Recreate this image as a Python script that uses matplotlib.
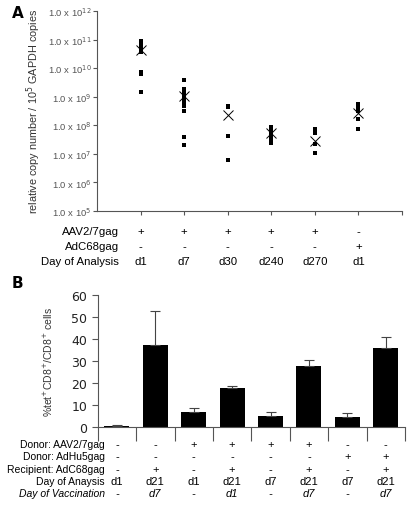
import numpy as np
import matplotlib.pyplot as plt
from matplotlib.transforms import blended_transform_factory

plt.rcParams['font.family'] = ['Liberation Sans', 'DejaVu Sans']

# ---- panel A data (log10 of copy number) ----
a_groups = ["d1", "d7", "d30", "d240", "d270", "d1"]
a_points = [
    [10.96, 10.82, 10.67, 10.57, 9.85, 9.79, 9.17],
    [9.59, 9.26, 9.18, 9.09, 9.01, 8.91, 8.80, 8.66, 8.50, 7.57, 7.31],
    [8.68, 8.62, 7.62, 6.77],
    [7.92, 7.82, 7.74, 7.62, 7.51, 7.39],
    [7.86, 7.71, 7.33, 7.01],
    [8.74, 8.62, 8.50, 8.21, 7.86],
]
a_means = [10.64, 9.03, 8.36, 7.71, 7.45, 8.44]
a_rows = ["AAV2/7gag", "AdC68gag", "Day of Analysis"]
a_aav = ["+", "+", "+", "+", "+", "-"]
a_adc = ["-", "-", "-", "-", "-", "+"]

# ---- panel B data ----
b_vals = [0.3, 37.0, 6.8, 17.8, 5.0, 27.8, 4.2, 36.0]
b_err = [0.3, 15.5, 1.9, 0.5, 1.5, 2.7, 2.1, 5.0]
b_rows = ["Donor: AAV2/7gag", "Donor: AdHu5gag", "Recipient: AdC68gag",
          "Day of Anaysis", "Day of Vaccination"]
b_aav = ["-", "-", "+", "+", "+", "+", "-", "-"]
b_adhu = ["-", "-", "-", "-", "-", "-", "+", "+"]
b_rec = ["-", "+", "-", "+", "-", "+", "-", "+"]
b_day = ["d1", "d21", "d1", "d21", "d7", "d21", "d7", "d21"]
b_vacc = ["-", "d7", "-", "d1", "-", "d7", "-", "d7"]

W, H = 411, 510
fig = plt.figure(figsize=(W / 100, H / 100), dpi=100)
gray = "#555555"

def fy(py):
    return 1 - py / H

# ================= panel A =================
axA = fig.add_axes([97 / W, fy(211.7), (402 - 97) / W, (211.7 - 12) / H])
xa = np.arange(1, len(a_groups) + 1)
for x, pts in zip(xa, a_points):
    axA.plot([x] * len(pts), 10 ** np.array(pts), 's', color='black',
             markersize=2.3, markeredgewidth=0)
axA.plot(xa, 10 ** np.array(a_means), 'x', color='black', markersize=6.5,
         markeredgewidth=0.7)
axA.set_yscale('log')
axA.set_ylim(1e5, 1e12)
axA.set_xlim(0, 7)
axA.set_xticks(np.arange(1, 8))
axA.set_xticklabels([])
axA.yaxis.set_minor_locator(plt.NullLocator())
ya_ticks = [10 ** k for k in range(5, 13)]
axA.set_yticks(ya_ticks)
axA.set_yticklabels([r"1.0 x 10$^{%d}$" % k for k in range(5, 13)],
                    fontsize=6.8, color=gray)
for s in ['top', 'right']:
    axA.spines[s].set_visible(False)
for s in ['left', 'bottom']:
    axA.spines[s].set_color(gray)
    axA.spines[s].set_linewidth(0.8)
axA.tick_params(axis='both', colors=gray, length=3, width=0.8)
axA.tick_params(axis='y', labelcolor=gray, pad=1)
axA.set_ylabel(r"relative copy number / 10$^{5}$ GAPDH copies", fontsize=7.8,
               color='#333333', labelpad=3)

trA = blended_transform_factory(axA.transData, fig.transFigure)
row_y_a = [231.7, 246.7, 261.7]
for lab, y in zip(a_rows, row_y_a):
    fig.text(119 / W, fy(y), lab, ha='right', va='center', fontsize=8.2)
for x, p, q, d in zip(xa, a_aav, a_adc, a_groups):
    fig.text(x, fy(row_y_a[0]), p, transform=trA, ha='center', va='center', fontsize=8.2)
    fig.text(x, fy(row_y_a[1]), q, transform=trA, ha='center', va='center', fontsize=8.2)
    fig.text(x, fy(row_y_a[2]), d, transform=trA, ha='center', va='center', fontsize=8.2)
fig.text(12 / W, fy(13), "A", fontsize=11, fontweight='bold', ha='left', va='center',
         family='DejaVu Sans')

# ================= panel B =================
axB = fig.add_axes([97.7 / W, fy(427.7), (405 - 97.7) / W, (427.7 - 295.7) / H])
xb = np.arange(len(b_vals)) + 0.5
axB.bar(xb, b_vals, width=0.65, color='black')
axB.errorbar(xb, b_vals, yerr=[np.zeros(len(b_err)), b_err], fmt='none',
             ecolor='#444444', elinewidth=0.8, capsize=3.5, capthick=0.8)
axB.set_xlim(0, 8)
axB.set_ylim(0, 60)
axB.set_yticks(range(0, 61, 10))
axB.set_yticklabels([str(v) for v in range(0, 61, 10)], fontsize=9,
                    family='DejaVu Sans', color='#222222')
axB.set_xticks(np.arange(0, 9))
axB.set_xticklabels([])
for s in ['top', 'right']:
    axB.spines[s].set_visible(False)
for s in ['left', 'bottom']:
    axB.spines[s].set_color(gray)
    axB.spines[s].set_linewidth(0.8)
axB.tick_params(axis='y', colors=gray, length=4, width=0.8, labelcolor='#222222')
axB.tick_params(axis='x', colors=gray, length=10, width=0.8)
axB.set_ylabel(r"%tet$^{+}$CD8$^{+}$/CD8$^{+}$ cells", fontsize=7.5,
               color='#333333', labelpad=12)

trB = blended_transform_factory(axB.transData, fig.transFigure)
row_y_b = [445, 457.3, 470, 481.7, 494.3]
cols = [b_aav, b_adhu, b_rec, b_day, b_vacc]
for i, (lab, y, vals) in enumerate(zip(b_rows, row_y_b, cols)):
    style = 'italic' if i == 4 else 'normal'
    fig.text(105 / W, fy(y), lab, ha='right', va='center', fontsize=7.5, style=style)
    for j, v in enumerate(vals):
        fig.text(xb[j], fy(y), v, transform=trB, ha='center', va='center',
                 fontsize=8, style=style)
fig.text(12 / W, fy(283), "B", fontsize=11, fontweight='bold', ha='left', va='center',
         family='DejaVu Sans')

fig.savefig("out.png", dpi=100)
